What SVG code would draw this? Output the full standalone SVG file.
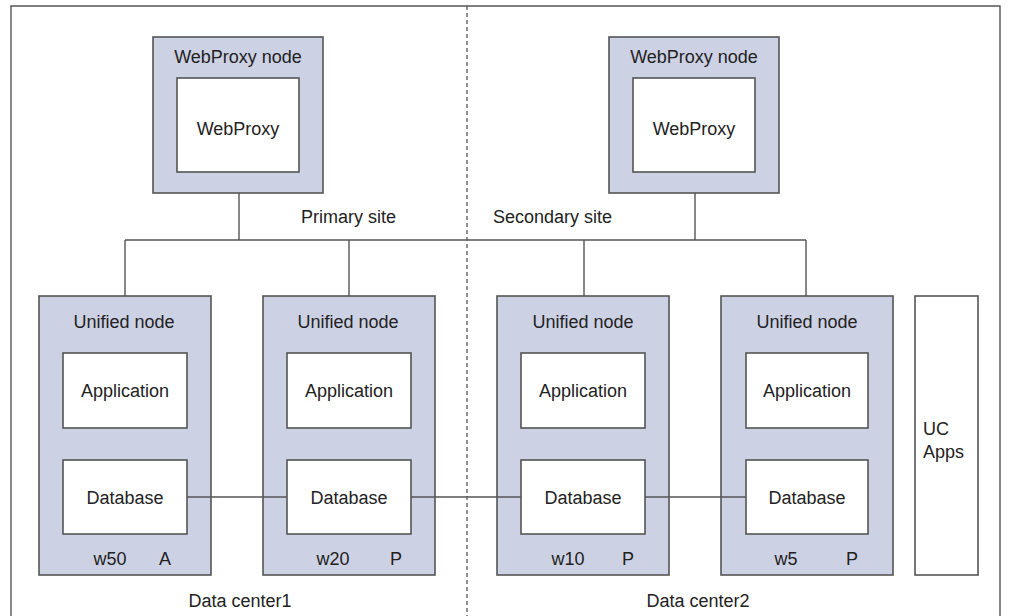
<svg xmlns="http://www.w3.org/2000/svg" width="1016" height="616" viewBox="0 0 1016 616">
<style>
text{font-family:"Liberation Sans",Arial,sans-serif;font-size:18px;fill:#222}
.c{text-anchor:middle}
.node{fill:#cdd1e4;stroke:#555;stroke-width:1.6}
.box{fill:#fff;stroke:#555;stroke-width:1.6}
.ln{stroke:#555;stroke-width:1.4;fill:none}
</style>
<rect x="0" y="0" width="1016" height="616" fill="#fff"/>
<path class="ln" d="M11,616 V6 H1000 V616"/>
<line x1="467" y1="6" x2="467" y2="616" stroke="#555" stroke-width="1.3" stroke-dasharray="4,3"/>
<text x="301" y="223">Primary site</text>
<text x="493" y="223">Secondary site</text>
<g id="webproxy1">
<rect class="node" x="153" y="37" width="170" height="156"/>
<text class="c" x="238" y="63">WebProxy node</text>
<rect class="box" x="177" y="78" width="122" height="94"/>
<text class="c" x="238" y="135">WebProxy</text>
</g>
<g id="webproxy2">
<rect class="node" x="609" y="37" width="170" height="156"/>
<text class="c" x="694" y="63">WebProxy node</text>
<rect class="box" x="633" y="78" width="122" height="94"/>
<text class="c" x="694" y="135">WebProxy</text>
</g>
<g id="unified1">
<rect class="node" x="39" y="296" width="172" height="279"/>
<text class="c" x="124" y="328">Unified node</text>
<rect class="box" x="63" y="353" width="124" height="75"/>
<text class="c" x="125" y="397">Application</text>
<rect class="box" x="63" y="460" width="124" height="74"/>
<text class="c" x="125" y="504">Database</text>
<text class="c" x="110" y="565">w50</text>
<text class="c" x="165" y="565">A</text>
</g>
<g id="unified2">
<rect class="node" x="263" y="296" width="172" height="279"/>
<text class="c" x="348" y="328">Unified node</text>
<rect class="box" x="287" y="353" width="124" height="75"/>
<text class="c" x="349" y="397">Application</text>
<rect class="box" x="287" y="460" width="124" height="74"/>
<text class="c" x="349" y="504">Database</text>
<text class="c" x="333" y="565">w20</text>
<text class="c" x="396" y="565">P</text>
</g>
<g id="unified3">
<rect class="node" x="497" y="296" width="172" height="279"/>
<text class="c" x="583" y="328">Unified node</text>
<rect class="box" x="521" y="353" width="124" height="75"/>
<text class="c" x="583" y="397">Application</text>
<rect class="box" x="521" y="460" width="124" height="74"/>
<text class="c" x="583" y="504">Database</text>
<text class="c" x="568" y="565">w10</text>
<text class="c" x="628" y="565">P</text>
</g>
<g id="unified4">
<rect class="node" x="721" y="296" width="172" height="279"/>
<text class="c" x="807" y="328">Unified node</text>
<rect class="box" x="746" y="353" width="122" height="75"/>
<text class="c" x="807" y="397">Application</text>
<rect class="box" x="746" y="460" width="122" height="74"/>
<text class="c" x="807" y="504">Database</text>
<text class="c" x="786" y="565">w5</text>
<text class="c" x="852" y="565">P</text>
</g>
<g id="ucapps">
<rect class="box" x="915" y="296" width="63" height="279"/>
<text x="923" y="435">UC</text>
<text x="923" y="458">Apps</text>
</g>
<g id="connectors">
<path class="ln" d="M239,193 V240 M695,193 V240 M125,240 H806 M125,240 V296 M349,240 V296 M584,240 V296 M806,240 V296"/>
<path class="ln" d="M187,497 H287 M411,497 H521 M645,497 H746"/>
</g>
<text class="c" x="240" y="607">Data center1</text>
<text class="c" x="698" y="607">Data center2</text>
</svg>
